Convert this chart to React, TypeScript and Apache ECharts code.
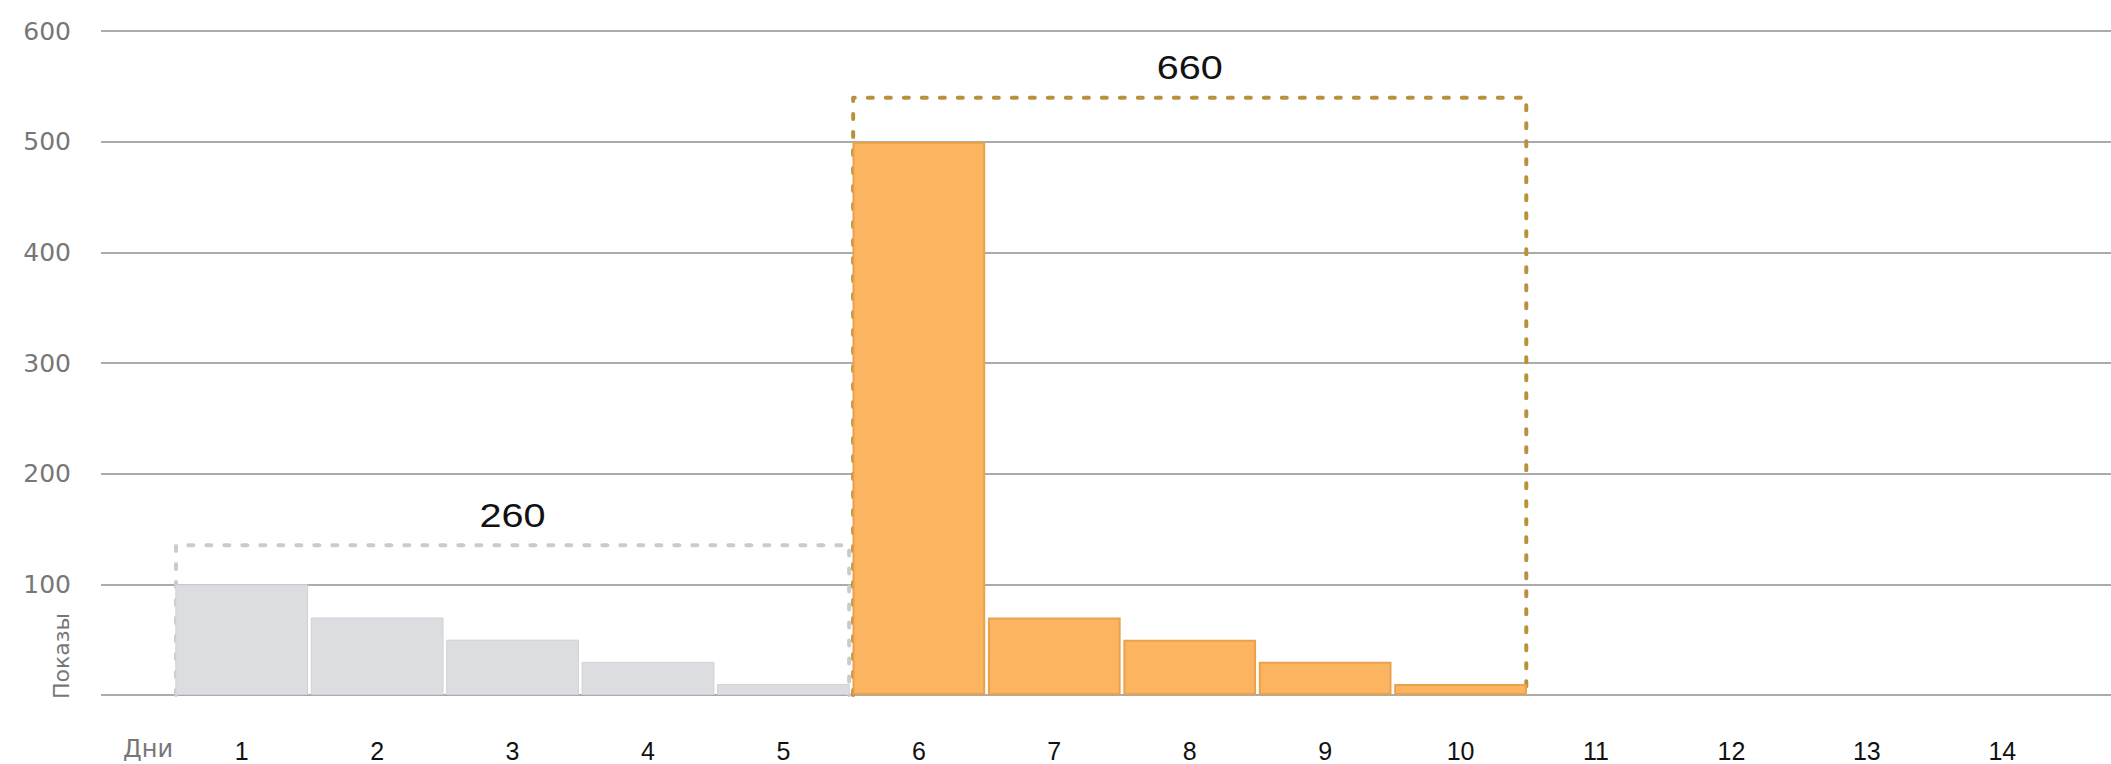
import React, { useEffect, useRef } from "react";
import * as echarts from "echarts";

const days = ["1", "2", "3", "4", "5", "6", "7", "8", "9", "10", "11", "12", "13", "14"];
const beforeValues = [100, 70, 50, 30, 10];
const afterValues = [500, 70, 50, 30, 10];
const yTicks = [0, 100, 200, 300, 400, 500, 600];
const boxColors = ["#cbcbcb", "#b8913b"];

const sum = (a: number[]) => a.reduce((s, v) => s + v, 0);
const maxOf = (a: number[]) => Math.max(...a);

export default function App() {
  const ref = useRef<HTMLDivElement>(null);
  useEffect(() => {
    if (!ref.current) return;
    const chart = echarts.init(ref.current, null, { renderer: "svg" });
    const beforeData = days.map((_, i) => (i < beforeValues.length ? beforeValues[i] : "-"));
    const afterData = days.map((_, i) => {
      const j = i - beforeValues.length;
      return j >= 0 && j < afterValues.length ? afterValues[j] : "-";
    });
    const boxes = [
      [0, beforeValues.length - 1, maxOf(beforeValues), sum(beforeValues)],
      [beforeValues.length, beforeValues.length + afterValues.length - 1, maxOf(afterValues), sum(afterValues)],
    ];
    const boxGap = [39, 44];
    chart.setOption({
      animation: false,
      backgroundColor: "#ffffff",
      grid: [
        { left: 101, right: 0, top: 31, bottom: 69 },
        { left: 174, right: 41, top: 31, bottom: 69 },
      ],
      xAxis: [
        { type: "value", gridIndex: 0, min: 0, max: 1, show: false },
        {
          type: "category",
          gridIndex: 1,
          data: days,
          axisLine: { show: false },
          axisTick: { show: false },
          axisLabel: {
            color: "#111111",
            fontSize: 25,
            fontFamily: "Liberation Sans",
            margin: 43,
            interval: 0,
          },
        },
      ],
      yAxis: [
        {
          type: "value",
          gridIndex: 0,
          min: yTicks[0],
          max: yTicks[yTicks.length - 1],
          interval: 100,
          axisLine: { show: false },
          axisTick: { show: false },
          axisLabel: {
            color: "#777777",
            fontSize: 25,
            fontFamily: "DejaVu Sans",
            margin: 30,
            formatter: (v: number) => (v === 0 ? "" : String(v)),
          },
          splitLine: { show: true, lineStyle: { color: "#ababab", width: 2 } },
        },
        {
          type: "value",
          gridIndex: 1,
          min: yTicks[0],
          max: yTicks[yTicks.length - 1],
          show: false,
          splitLine: { show: false },
        },
      ],
      graphic: [
        {
          type: "text",
          x: 148,
          y: 749,
          style: {
            text: "Дни",
            fontSize: 24,
            fontFamily: "DejaVu Sans",
            fill: "#777777",
            align: "center",
            verticalAlign: "middle",
          },
        },
        {
          type: "text",
          x: 61,
          y: 656,
          rotation: Math.PI / 2,
          style: {
            text: "Показы",
            fontSize: 22,
            fontFamily: "DejaVu Sans",
            fill: "#777777",
            align: "center",
            verticalAlign: "middle",
          },
        },
      ],
      series: [
        {
          type: "custom",
          xAxisIndex: 1,
          yAxisIndex: 1,
          z: 1,
          clip: false,
          data: boxes,
          renderItem: (params: any, api: any) => {
            const s = api.value(0);
            const e = api.value(1);
            const mx = api.value(2);
            const total = api.value(3);
            const w = api.size([1, 0])[0];
            const left = api.coord([s, 0])[0] - w / 2 + 2;
            const right = api.coord([e, 0])[0] + w / 2 - 2;
            const base = api.coord([s, 0])[1];
            const top = api.coord([s, mx])[1] - boxGap[params.dataIndex];
            const color = boxColors[params.dataIndex];
            return {
              type: "group",
              children: [
                {
                  type: "polyline",
                  shape: { points: [[left, base], [left, top], [right, top], [right, base]] },
                  style: { stroke: color, lineWidth: 4, lineDash: [5, 13], fill: null, lineCap: "round", lineJoin: "round" },
                },
                {
                  type: "text",
                  x: (left + right) / 2,
                  y: top - 30,
                  scaleX: 1.2,
                  style: {
                    text: String(total),
                    fontSize: 33,
                    fontFamily: "Liberation Sans",
                    fill: "#111111",
                    align: "center",
                    verticalAlign: "middle",
                  },
                },
              ],
            };
          },
        },
        {
          type: "bar",
          xAxisIndex: 1,
          yAxisIndex: 1,
          stack: "all",
          z: 3,
          barCategoryGap: "2%",
          data: beforeData,
          itemStyle: { color: "#dcdde0", borderColor: "#d0d1d4", borderWidth: 1 },
        },
        {
          type: "bar",
          xAxisIndex: 1,
          yAxisIndex: 1,
          stack: "all",
          z: 3,
          barCategoryGap: "2%",
          data: afterData,
          itemStyle: { color: "#fdb461", borderColor: "#e8a24c", borderWidth: 2 },
        },
      ],
    });
    return () => chart.dispose();
  }, []);
  return (
    <div
      ref={ref}
      style={{ position: "fixed", left: 0, top: 0, width: 2111, height: 764, background: "#fff" }}
    />
  );
}
